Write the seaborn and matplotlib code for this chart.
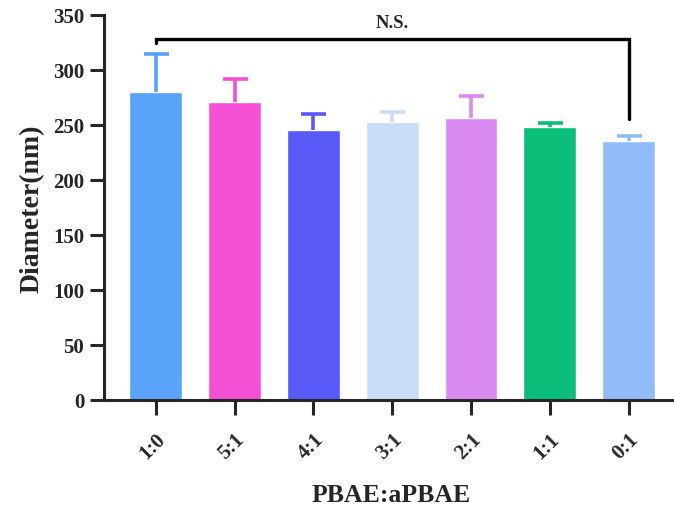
import matplotlib
matplotlib.use("Agg")
import matplotlib.pyplot as plt
import seaborn as sns
import pandas as pd

# data
ratios = ["1:0", "5:1", "4:1", "3:1", "2:1", "1:1", "0:1"]
diameter = [280, 271, 245, 253, 256, 248, 235]
sd = [34, 21, 15, 9, 20, 4, 5]
colors = ["#58A3F7", "#F54FD6", "#5859F7", "#C9DDF7", "#DB8AF2", "#0BBF7A", "#90BDF7"]

df = pd.DataFrame({"Ratio": ratios, "Diameter": diameter})

sns.set_style("ticks")
plt.rcParams["font.family"] = ["Liberation Serif", "DejaVu Serif"]
plt.rcParams["font.weight"] = "bold"

fig = plt.figure(figsize=(6.74, 5.10), dpi=100)
ax = fig.add_axes([0.154, 0.214, 0.843, 0.755])

sns.barplot(data=df, x="Ratio", y="Diameter", hue="Ratio", palette=colors,
            legend=False, width=0.67, saturation=1, ax=ax)

# upper error bars only, same colour as bars
for i, (m, s, c) in enumerate(zip(diameter, sd, colors)):
    eb = ax.errorbar(i, m, yerr=[[0], [s]], color=c, lw=2.6, capsize=9,
                     capthick=2.6, zorder=1)
    eb[1][0].set_visible(False)  # hide lower cap

# significance bracket
ax.plot([0, 0, 6, 6], [324, 328, 328, 255], color="black", lw=2.4,
        clip_on=False, solid_joinstyle="miter")
ax.text(3, 335, "N.S.", ha="center", va="bottom", fontsize=13.5,
        fontweight="bold")

ax.set_ylim(0, 350)
ax.set_xlim(-0.66, 6.55)
ax.set_yticks(range(0, 351, 50))

ax.set_ylabel("Diameter(nm)", fontsize=20, fontweight="bold", labelpad=6)
ax.set_xlabel("PBAE:aPBAE", fontsize=18.5, fontweight="bold", va="center")
ax.xaxis.set_label_coords(0.505, -0.245)

for sp in ["top", "right"]:
    ax.spines[sp].set_visible(False)
for sp in ["left", "bottom"]:
    ax.spines[sp].set_linewidth(2.2)

ax.tick_params(axis="y", width=2.2, length=10, labelsize=15, pad=4)
ax.tick_params(axis="x", width=2.2, length=11, labelsize=15, pad=10)
plt.setp(ax.get_xticklabels(), rotation=45, ha="right",
         rotation_mode="anchor", fontweight="bold")
plt.setp(ax.get_yticklabels(), fontweight="bold")

fig.savefig("out.png", dpi=100)
